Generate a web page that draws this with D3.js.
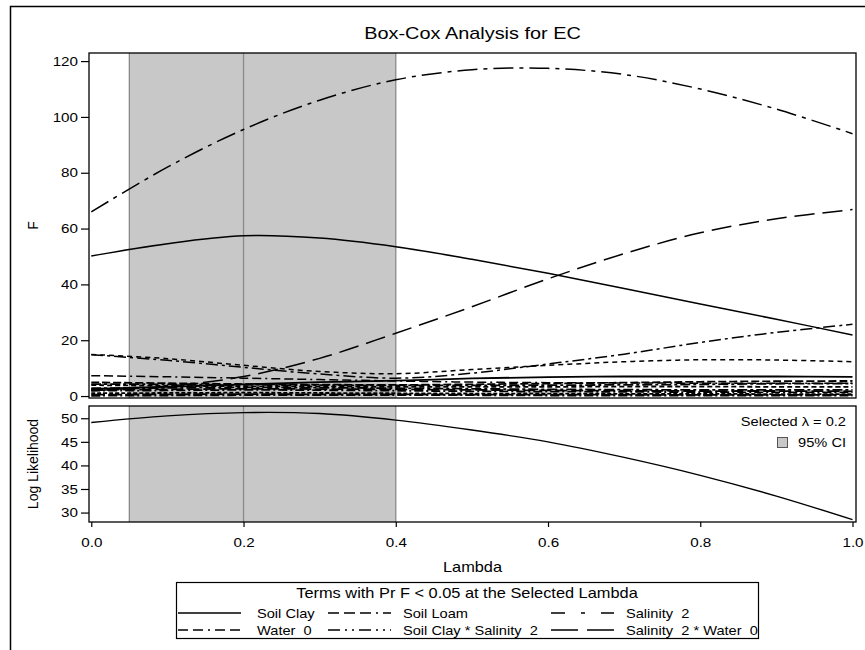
<!DOCTYPE html>
<html>
<head>
<meta charset="utf-8">
<script src="https://cdn.jsdelivr.net/npm/d3@7"></script>
<style>
  body { margin: 0; background: #fff; }
  text { font-family: "Liberation Sans", Arial, sans-serif; fill: #000; }
</style>
</head>
<body>
<div id="chart"></div>
<script>
/* Box-Cox analysis: F values per term and log likelihood over lambda */

const lambdas = [0, 0.1, 0.2, 0.3, 0.4, 0.5, 0.6, 0.7, 0.8, 0.9, 1.0];

// terms shown in the legend
const soilClay      = [50.2, 54.6, 57.4, 56.6, 53.5, 49.0, 44.0, 38.5, 33.0, 27.5, 21.9];
const soilLoam      = [7.3, 6.9, 6.4, 5.9, 5.4, 5.0, 4.8, 4.7, 4.6, 4.6, 4.6];
const salinity2     = [66.0, 82.0, 95.5, 106.0, 113.3, 116.9, 117.4, 115.2, 110.0, 102.8, 94.0];
const water0        = [14.8, 12.8, 10.3, 7.9, 6.4, 8.2, 11.5, 15.0, 19.2, 22.8, 25.7];
const clayXSalinity = [14.9, 13.4, 11.0, 8.8, 8.0, 9.5, 11.0, 12.3, 13.0, 12.9, 12.3];
const salXWater     = [2.0, 3.5, 7.0, 13.5, 22.5, 32.0, 42.0, 51.0, 58.5, 63.5, 66.8];

// remaining terms near zero
const otherTerms = [
  [2.6, 3.3, 4.2, 5.0, 5.5, 6.3, 6.8, 7.0, 7.0, 7.0, 6.9],
  [4.9, 4.6, 4.3, 4.1, 4.0, 4.2, 4.5, 4.8, 5.1, 5.3, 5.4],
  [4.3, 4.2, 4.0, 3.9, 3.8, 3.8, 3.9, 4.0, 4.2, 4.4, 4.5],
  [3.9, 3.7, 3.5, 3.4, 3.3, 3.3, 3.3, 3.4, 3.4, 3.3, 3.3],
  [2.8, 2.9, 3.1, 3.0, 2.8, 2.6, 2.4, 2.3, 2.2, 2.2, 2.2],
  [2.2, 2.4, 2.6, 2.5, 2.4, 2.2, 2.0, 1.9, 1.8, 1.8, 1.7],
  [1.9, 2.0, 2.2, 2.1, 1.9, 1.7, 1.6, 1.5, 1.4, 1.3, 1.3],
  [1.0, 1.1, 1.2, 1.1, 1.0, 0.9, 0.9, 0.8, 0.8, 0.7, 0.7],
  [0.5, 0.6, 0.7, 0.6, 0.6, 0.5, 0.5, 0.5, 0.4, 0.4, 0.4],
  [0.1, 0.2, 0.3, 0.3, 0.3, 0.3, 0.2, 0.2, 0.2, 0.2, 0.2]
];
const otherDash = ["none", "8,3", "10,3,3,3", "5,3", "10,3,3,3", "12,4", "9,3,2,3", "4,2", "14,3", "9,3,2,3"];

const logLik = [49.1, 50.5, 51.2, 51.0, 49.6, 47.5, 45.0, 41.7, 37.9, 33.5, 28.5];

const selectedLambda = 0.2;
const ciBand = [0.05, 0.4];

const xTicks = [0, 0.2, 0.4, 0.6, 0.8, 1.0];
const fTicks = [0, 20, 40, 60, 80, 100, 120];
const llTicks = [30, 35, 40, 45, 50];

const legendTerms = [
  { name: "Soil Clay", values: soilClay, dash: "none" },
  { name: "Soil Loam", values: soilLoam, dash: "9,4,9,4,9,4,2,4" },
  { name: "Salinity  2", values: salinity2, dash: "20,6,4,6" },
  { name: "Water  0", values: water0, dash: "12,4,3,4" },
  { name: "Soil Clay * Salinity  2", values: clayXSalinity, dash: "5,4" },
  { name: "Salinity  2 * Water  0", values: salXWater, dash: "20,8" }
];
// dash used for the samples in the key
const legendDash = ["none", "11,5,11,5,11,5,2,5", "14,16,4,16", "10,5,10,5,2,5", "12,5,2,5,2,5", "27,9"];

const width = 865, height = 650;
const left = 89, right = 856;
const top1 = 53, bot1 = 398, top2 = 406, bot2 = 522;
const sx = 1.17; // text in the picture is drawn a bit wide

const svg = d3.select("#chart").append("svg")
    .attr("width", width)
    .attr("height", height);

const label = (x, y, txt, size, anchor) => svg.append("text")
    .attr("transform", `translate(${x},${y}) scale(${sx},1)`)
    .attr("text-anchor", anchor || "start")
    .style("font-size", size + "px")
    .style("white-space", "pre")
    .text(txt);

// outer frame
svg.append("rect")
    .attr("x", 10.5).attr("y", 6.5)
    .attr("width", 900).attr("height", 700)
    .attr("fill", "none").attr("stroke", "#000").attr("stroke-width", 1.5);

const x = d3.scaleLinear().domain([-0.003, 1.0046]).range([left, right]);
const yF = d3.scaleLinear().domain([-0.7, 122.9]).range([bot1, top1]);
const yL = d3.scaleLinear().domain([28.0, 52.6]).range([bot2, top2]);

label(472.5, 39, "Box-Cox Analysis for EC", 17, "middle");

const defs = svg.append("defs");
defs.append("clipPath").attr("id", "clip1")
  .append("rect").attr("x", left).attr("y", top1).attr("width", right - left).attr("height", bot1 - top1);
defs.append("clipPath").attr("id", "clip2")
  .append("rect").attr("x", left).attr("y", top2).attr("width", right - left).attr("height", bot2 - top2);

// CI band + selected lambda in both panels
for (const [y0, y1] of [[top1, bot1], [top2, bot2]]) {
  svg.append("rect")
      .attr("x", x(ciBand[0])).attr("y", y0)
      .attr("width", x(ciBand[1]) - x(ciBand[0]))
      .attr("height", y1 - y0)
      .attr("fill", "#c8c8c8");
  for (const v of [ciBand[0], ciBand[1], selectedLambda]) {
    svg.append("line")
        .attr("x1", x(v)).attr("x2", x(v))
        .attr("y1", y0).attr("y2", y1)
        .attr("stroke", "#8a8a8a").attr("stroke-width", 1.3);
  }
}

const lineF = d3.line()
    .x((d, i) => x(lambdas[i]))
    .y(d => yF(d))
    .curve(d3.curveCatmullRom.alpha(0.5));

const g1 = svg.append("g").attr("clip-path", "url(#clip1)");

otherTerms.forEach((vals, i) => {
  g1.append("path")
      .attr("d", lineF(vals))
      .attr("fill", "none")
      .attr("stroke", "#000")
      .attr("stroke-width", 1.8)
      .attr("stroke-dasharray", otherDash[i]);
});

legendTerms.forEach(t => {
  g1.append("path")
      .attr("d", lineF(t.values))
      .attr("fill", "none")
      .attr("stroke", "#000")
      .attr("stroke-width", 1.5)
      .attr("stroke-dasharray", t.dash);
});

const lineL = d3.line()
    .x((d, i) => x(lambdas[i]))
    .y(d => yL(d))
    .curve(d3.curveCatmullRom.alpha(0.5));

svg.append("g").attr("clip-path", "url(#clip2)")
  .append("path")
    .attr("d", lineL(logLik))
    .attr("fill", "none")
    .attr("stroke", "#000")
    .attr("stroke-width", 1.4);

// panel borders
for (const [y0, y1] of [[top1, bot1], [top2, bot2]]) {
  svg.append("rect")
      .attr("x", left).attr("y", y0)
      .attr("width", right - left).attr("height", y1 - y0)
      .attr("fill", "none").attr("stroke", "#000").attr("stroke-width", 1.3);
}

const styleAxis = g => {
  g.select(".domain").remove();
  g.selectAll(".tick line").attr("stroke", "#000").attr("stroke-width", 1.2);
  g.selectAll(".tick text")
      .style("font-family", "'Liberation Sans', Arial, sans-serif")
      .style("font-size", "13px")
      .attr("fill", "#000")
      .attr("transform", `scale(${sx},1)`);
};

svg.append("g")
    .attr("transform", `translate(${left},0)`)
    .call(d3.axisLeft(yF).tickValues(fTicks).tickSize(8).tickFormat(d3.format("d")))
    .call(styleAxis)
    .call(g => g.selectAll(".tick text").attr("x", -11 / sx));

svg.append("g")
    .attr("transform", `translate(${left},0)`)
    .call(d3.axisLeft(yL).tickValues(llTicks).tickSize(8).tickFormat(d3.format("d")))
    .call(styleAxis)
    .call(g => g.selectAll(".tick text").attr("x", -11 / sx));

svg.append("g")
    .attr("transform", `translate(0,${bot2})`)
    .call(d3.axisBottom(x).tickValues(xTicks).tickSize(5).tickPadding(11).tickFormat(d3.format(".1f")))
    .call(styleAxis);

svg.append("text")
    .attr("transform", `translate(38,${(top1 + bot1) / 2}) rotate(-90)`)
    .attr("text-anchor", "middle")
    .style("font-size", "14px")
    .text("F");

svg.append("text")
    .attr("transform", `translate(38,${(top2 + bot2) / 2}) rotate(-90)`)
    .attr("text-anchor", "middle")
    .style("font-size", "14px")
    .text("Log Likelihood");

label(472.5, 572, "Lambda", 14, "middle");

// inset legend
label(846, 426, `Selected \u03bb = ${selectedLambda}`, 12.5, "end");
svg.append("rect")
    .attr("x", 777.5).attr("y", 437.5).attr("width", 10).attr("height", 10)
    .attr("fill", "#c8c8c8").attr("stroke", "#555");
label(846, 447, "95% CI", 12.5, "end");

// bottom legend
svg.append("rect")
    .attr("x", 176.5).attr("y", 582.5).attr("width", 582).attr("height", 56)
    .attr("fill", "none").attr("stroke", "#000").attr("stroke-width", 1.2);
label(467, 598, "Terms with Pr F < 0.05 at the Selected Lambda", 14, "middle");

const colX = [178, 328, 551];
const textX = [257, 403, 626];
const rowY = [617.5, 634.5];
legendTerms.forEach((t, i) => {
  const c = i % 3, r = Math.floor(i / 3);
  svg.append("line")
      .attr("x1", colX[c]).attr("x2", colX[c] + 63)
      .attr("y1", rowY[r] - 4.5).attr("y2", rowY[r] - 4.5)
      .attr("stroke", "#000").attr("stroke-width", 1.3)
      .attr("stroke-dasharray", legendDash[i]);
  label(textX[c], rowY[r], t.name, 12.5);
});
</script>
</body>
</html>
